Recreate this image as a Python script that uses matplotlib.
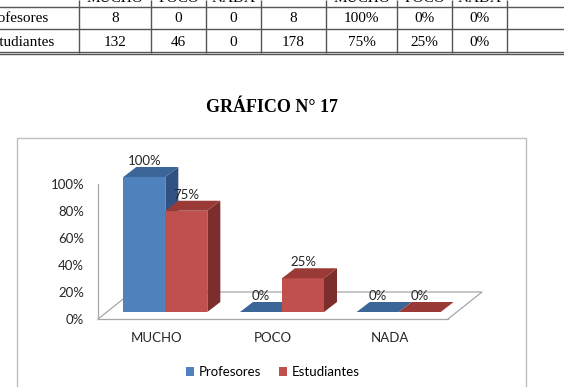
import numpy as np
import matplotlib

matplotlib.use("Agg")
import matplotlib.pyplot as plt
import matplotlib.transforms as mtransforms
from matplotlib.lines import Line2D
from matplotlib.patches import Polygon, Rectangle

# chart data
categories = ["MUCHO", "POCO", "NADA"]
series_names = ["Profesores", "Estudiantes"]
profesores_pct = [1.00, 0.00, 0.00]
estudiantes_pct = [0.75, 0.25, 0.00]
y_ticks = [0.0, 0.2, 0.4, 0.6, 0.8, 1.0]

# table above the chart (cut off in the page scan)
table_header = ["MUCHO", "POCO", "NADA", "", "MUCHO", "POCO", "NADA"]
table_rows = ["Profesores", "Estudiantes"]
profesores_counts = [8, 0, 0]
estudiantes_counts = [132, 46, 0]
profesores_table_pct = ["100%", "0%", "0%"]
estudiantes_table_pct = ["75%", "25%", "0%"]

W, H = 564, 387
CHART_FONT = ["Lato", "DejaVu Sans"]
SERIF_FONT = ["Liberation Serif", "DejaVu Serif"]
CHART_SIZE = 9.5

BLUE = {"front": "#4F81BD", "top": "#3C6598", "side": "#2F5283"}
RED = {"front": "#C0504D", "top": "#9A3A37", "side": "#7C2E2C"}
GRID_GREY = "#A6A6A6"

fig = plt.figure(figsize=(W / 100, H / 100), dpi=100)

# page layer in pixel units: table, title, chart frame
page = fig.add_axes([0, 0, 1, 1], zorder=0)
page.set_xlim(0, W)
page.set_ylim(H, 0)
page.axis("off")

col_edges = [79, 151, 206, 261, 326, 397, 452, 507]
row_y = [-1, 19, 42]
for x in col_edges:
    page.plot([x, x], [0, 53], color="#555555", lw=1.0, solid_capstyle="butt")
for y in [7, 29, 52, 54]:
    page.plot([0, W], [y, y], color="#555555", lw=1.0)

col_centers = [(a + b) / 2 for a, b in zip(col_edges[:-1], col_edges[1:])]
table_font = dict(family=SERIF_FONT, fontsize=11, color="black", va="center")
for cx, txt in zip(col_centers, table_header):
    page.text(cx, row_y[0], txt, ha="center", **table_font)

rows = [
    (table_rows[0], profesores_counts, profesores_table_pct),
    (table_rows[1], estudiantes_counts, estudiantes_table_pct),
]
for (label, counts, pcts), y in zip(rows, row_y[1:]):
    page.text(-15, y, label, ha="left", **table_font)
    cells = [str(c) for c in counts] + [str(sum(counts))] + pcts
    for cx, txt in zip(col_centers, cells):
        page.text(cx, y, txt, ha="center", **table_font)

page.text(272, 107, "GRÁFICO N° 17", ha="center", va="center",
          family=SERIF_FONT, fontsize=13, fontweight="bold")

page.add_patch(Rectangle((17, 138), 509, 270, fill=False,
                         edgecolor="#BFBFBF", lw=1.0))

# chart axes = front plane of the 3D floor
ax = fig.add_axes([98 / W, (H - 319) / H, 350 / W, 135 / H], zorder=1)
ax.patch.set_visible(False)
ax.set_xlim(-0.5, len(categories) - 0.5)
ax.set_ylim(0, 1.0)
for side in ["top", "right"]:
    ax.spines[side].set_visible(False)
for side in ["left", "bottom"]:
    ax.spines[side].set_color(GRID_GREY)
    ax.spines[side].set_linewidth(0.9)

ax.set_yticks(y_ticks, labels=[f"{v:.0%}" for v in y_ticks])
ax.set_xticks(range(len(categories)), labels=categories)
ax.tick_params(axis="y", length=0, pad=10, labelsize=CHART_SIZE,
               labelcolor="#262626")
ax.tick_params(axis="x", length=0, pad=9.5, labelsize=CHART_SIZE,
               labelcolor="#262626")
for lbl in ax.get_xticklabels() + ax.get_yticklabels():
    lbl.set_family(CHART_FONT)

ident = mtransforms.IdentityTransform()
floor_depth = np.array([34, 27])
bar_depth = np.array([13, 10])

# floor parallelogram
fl = ax.transData.transform((-0.5, 0))
fr = ax.transData.transform((len(categories) - 0.5, 0))
floor = np.array([fl, fl + floor_depth, fr + floor_depth, fr])
ax.add_line(Line2D(floor[:, 0], floor[:, 1], transform=ident,
                   color=GRID_GREY, lw=0.9, clip_on=False, zorder=1))

bar_trans = ax.transData + mtransforms.ScaledTranslation(
    0.09, 0.07, fig.dpi_scale_trans)

bar_w = 0.36
x = np.arange(len(categories))
handles = []
for k, (values, colors) in enumerate([(profesores_pct, BLUE),
                                      (estudiantes_pct, RED)]):
    x0 = x - bar_w + k * bar_w
    z = 3 + k
    bars = ax.bar(x0, values, bar_w, align="edge", color=colors["front"],
                  transform=bar_trans, zorder=z, clip_on=False)
    handles.append(bars)
    for xi, v in zip(x0, values):
        tl = bar_trans.transform((xi, v))
        tr = bar_trans.transform((xi + bar_w, v))
        br = bar_trans.transform((xi + bar_w, 0))
        if v > 0:
            ax.add_patch(Polygon([br, tr, tr + bar_depth, br + bar_depth],
                                 closed=True, transform=ident, clip_on=False,
                                 facecolor=colors["side"], lw=0, zorder=z + 0.1))
        ax.add_patch(Polygon([tl, tr, tr + bar_depth, tl + bar_depth],
                             closed=True, transform=ident, clip_on=False,
                             facecolor=colors["top"], lw=0, zorder=z + 0.1))
        ax.annotate(f"{v:.0%}", xy=(xi + bar_w / 2, v), xycoords=bar_trans,
                    xytext=(0, 11.5), textcoords="offset points",
                    ha="center", va="center", fontsize=CHART_SIZE,
                    color="#262626", family=CHART_FONT, zorder=6)

fig.legend(handles=handles, labels=series_names, loc="center",
           bbox_to_anchor=(273 / W, 1 - 372 / H), ncol=2, frameon=False,
           handlelength=0.6, handleheight=0.6, handletextpad=0.4,
           columnspacing=1.3, prop={"family": CHART_FONT, "size": CHART_SIZE})

fig.savefig("out.png", dpi=100)
